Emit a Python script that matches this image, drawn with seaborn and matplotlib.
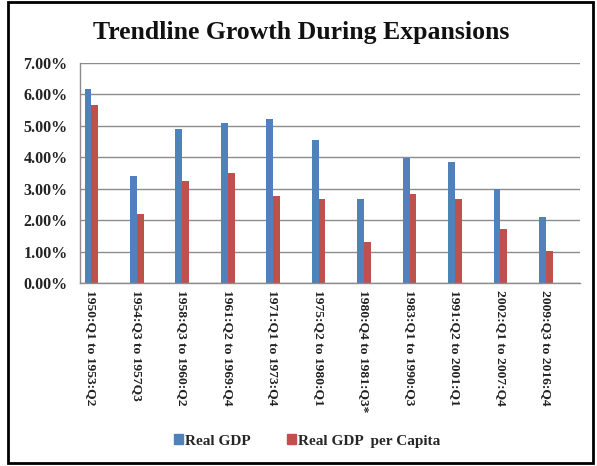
import matplotlib
matplotlib.use("Agg")
import matplotlib.pyplot as plt
import matplotlib.patches as mpatches
import seaborn as sns
import pandas as pd

periods = ["1950:Q1 to 1953:Q2", "1954:Q3 to 1957Q3", "1958:Q3 to 1960:Q2",
           "1961:Q2 to 1969:Q4", "1971:Q1 to 1973:Q4", "1975:Q2 to 1980:Q1",
           "1980:Q4 to 1981:Q3*", "1983:Q1 to 1990:Q3", "1991:Q2 to 2001:Q1",
           "2002:Q1 to 2007:Q4", "2009:Q3 to 2016:Q4"]
real_gdp = [6.16, 3.41, 4.90, 5.09, 5.23, 4.56, 2.67, 3.99, 3.86, 2.99, 2.09]
real_gdp_pc = [5.67, 2.21, 3.26, 3.49, 2.78, 2.67, 1.32, 2.82, 2.67, 1.72, 1.01]
series_names = ["Real GDP", "Real GDP  per Capita"]
colors = ["#4F81BD", "#C0504D"]
yticks = [0, 1, 2, 3, 4, 5, 6, 7]

rows = []
for p, a, b in zip(periods, real_gdp, real_gdp_pc):
    rows.append({"period": p, "series": series_names[0], "value": a})
    rows.append({"period": p, "series": series_names[1], "value": b})
df = pd.DataFrame(rows)

# Excel layout: each labeled category followed by an empty slot
order = []
for i, p in enumerate(periods):
    order.append(p)
    order.append(" " * (i + 1))

sns.set_style("white")
plt.rcParams["font.family"] = ["Liberation Serif", "DejaVu Serif"]
plt.rcParams["font.weight"] = "bold"

fig = plt.figure(figsize=(5.97, 4.66), dpi=100)
ax = fig.add_axes([80/597, 1-283/466, 500/597, 220/466])

sns.barplot(data=df, x="period", y="value", hue="series", order=order,
            hue_order=series_names, palette=colors, width=0.6, dodge=True,
            saturation=1, ax=ax, legend=False, linewidth=0, edgecolor="none")

ax.set_ylim(0, 7)
ax.set_xlim(-0.5, len(order) - 0.5)
ax.set_yticks(yticks)
ax.set_yticklabels([f"{v:.2f}%" for v in yticks], fontsize=11.5, fontweight="bold", color="#222222")
ax.yaxis.grid(True, color="#8C8C8C", linewidth=1)
ax.set_axisbelow(True)
ax.set_xlabel("")
ax.set_ylabel("")

ax.set_xticks(range(len(order)))
ax.set_xticklabels(order, rotation=-90, fontsize=9.7, fontweight="bold", va="top", ha="center",
                   color="#222222")
ax.tick_params(axis="x", which="major", length=0, pad=5)
ax.set_xticks([i - 0.5 for i in range(len(order) + 1)], minor=True)
ax.tick_params(axis="x", which="minor", length=4, color="#8C8C8C", direction="out")
ax.tick_params(axis="y", which="major", length=4, color="#8C8C8C", direction="out", pad=5)

for s in ["top", "right"]:
    ax.spines[s].set_visible(False)
for s in ["left", "bottom"]:
    ax.spines[s].set_color("#8C8C8C")
    ax.spines[s].set_linewidth(1)

fig.text(0.505, 1 - 32/466, "Trendline Growth During Expansions", ha="center", va="center",
         fontsize=18.5, fontweight="bold", color="#111111")

handles = [mpatches.Patch(color=c, label=n) for c, n in zip(colors, series_names)]
fig.legend(handles=handles, loc="center", bbox_to_anchor=(0.515, 1 - 441/466), ncol=2,
           frameon=False, fontsize=11, handlelength=0.55, handleheight=0.55,
           handletextpad=0.15, columnspacing=2.4)

border = mpatches.Rectangle((8/597, 1 - 463/466), 585/597, 461/466, transform=fig.transFigure,
                            fill=False, edgecolor="black", linewidth=2)
fig.patches.append(border)

fig.savefig("out.png", dpi=100)
